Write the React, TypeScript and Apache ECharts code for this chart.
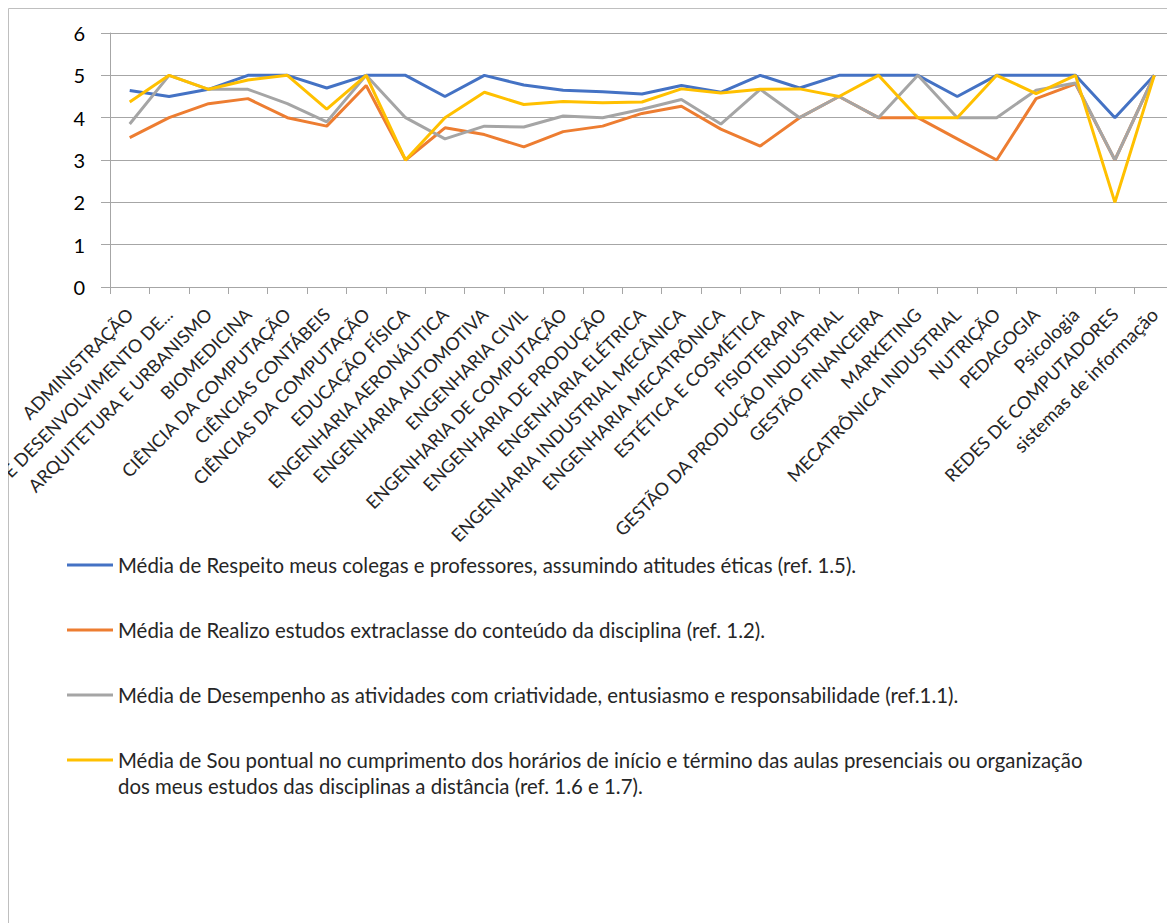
import React, { useEffect, useRef } from "react";
import * as echarts from "echarts";

const categories = [
  "ADMINISTRAÇÃO",
  "ANÁLISE E DESENVOLVIMENTO DE...",
  "ARQUITETURA E URBANISMO",
  "BIOMEDICINA",
  "CIÊNCIA DA COMPUTAÇÃO",
  "CIÊNCIAS CONTÁBEIS",
  "CIÊNCIAS DA COMPUTAÇÃO",
  "EDUCAÇÃO FÍSICA",
  "ENGENHARIA AERONÁUTICA",
  "ENGENHARIA AUTOMOTIVA",
  "ENGENHARIA CIVIL",
  "ENGENHARIA DE COMPUTAÇÃO",
  "ENGENHARIA DE PRODUÇÃO",
  "ENGENHARIA ELÉTRICA",
  "ENGENHARIA INDUSTRIAL MECÂNICA",
  "ENGENHARIA MECATRÔNICA",
  "ESTÉTICA E COSMÉTICA",
  "FISIOTERAPIA",
  "GESTÃO DA PRODUÇÃO INDUSTRIAL",
  "GESTÃO FINANCEIRA",
  "MARKETING",
  "MECATRÔNICA INDUSTRIAL",
  "NUTRIÇÃO",
  "PEDAGOGIA",
  "Psicologia",
  "REDES DE COMPUTADORES",
  "sistemas de informação",
];

const seriesNames = [
  "Média de Respeito meus colegas e professores, assumindo atitudes éticas (ref. 1.5).",
  "Média de Realizo estudos extraclasse do conteúdo da disciplina (ref. 1.2).",
  "Média de Desempenho as atividades com criatividade, entusiasmo e responsabilidade (ref.1.1).",
  "Média de Sou pontual no cumprimento dos horários de início e término das aulas presenciais ou organização dos meus estudos das disciplinas a distância (ref. 1.6 e 1.7).",
];

const respeito = [4.64, 4.5, 4.67, 5, 5, 4.7, 5, 5, 4.5, 5, 4.77, 4.65, 4.61, 4.56, 4.76, 4.6, 5, 4.7, 5, 5, 5, 4.5, 5, 5, 5, 4, 5];
const realizo = [3.53, 4.0, 4.33, 4.45, 4.0, 3.8, 4.76, 3.0, 3.76, 3.6, 3.31, 3.67, 3.8, 4.1, 4.27, 3.73, 3.33, 4.0, 4.5, 4.0, 4.0, 3.5, 3.0, 4.45, 4.8, 3.0, 5];
const desempenho = [3.85, 5, 4.67, 4.67, 4.33, 3.9, 5, 4, 3.5, 3.8, 3.78, 4.04, 4.0, 4.2, 4.43, 3.85, 4.67, 4.0, 4.5, 4.0, 5, 4, 4, 4.65, 4.82, 3, 5];
const pontual = [4.37, 5, 4.67, 4.89, 5, 4.2, 5, 3, 4.0, 4.6, 4.31, 4.38, 4.35, 4.37, 4.68, 4.58, 4.67, 4.68, 4.5, 5, 4, 4, 5, 4.57, 5, 2, 5];

const legendLine4a =
  "Média de Sou pontual no cumprimento dos horários de início e término das aulas presenciais ou organização";
const legendLine4b = "dos meus estudos das disciplinas a distância (ref. 1.6 e 1.7).";

const colors = ["#4472C4", "#ED7D31", "#A5A5A5", "#FFC000"];
const FONT = "Lato";

export default function App() {
  const ref = useRef<HTMLDivElement>(null);
  useEffect(() => {
    if (!ref.current) return;
    const chart = echarts.init(ref.current, undefined, { renderer: "svg" });
    const values = [respeito, realizo, desempenho, pontual];
    // Lato capitals run wider than the original font, so all-caps labels get a slightly smaller size
    const categoryItems = categories.map((c) => ({
      value: c,
      textStyle: { fontSize: c === c.toUpperCase() ? 18 : 19 },
    }));
    chart.setOption({
      animation: false,
      color: colors,
      textStyle: { fontFamily: FONT },
      grid: {
        left: 102,
        right: 1,
        top: 25,
        height: 254,
        containLabel: false,
        outerBoundsMode: "none",
      },
      xAxis: {
        type: "category",
        data: categoryItems,
        boundaryGap: true,
        axisLine: { lineStyle: { color: "#A6A6A6", width: 1 } },
        axisTick: { show: true, length: 7, lineStyle: { color: "#A6A6A6" } },
        axisLabel: {
          rotate: 45,
          interval: 0,
          margin: 24,
          fontSize: 18,
          color: "#262626",
          fontFamily: FONT,
        },
        splitLine: { show: false },
      },
      yAxis: {
        type: "value",
        min: 0,
        max: 6,
        interval: 1,
        axisLine: { show: true, lineStyle: { color: "#A6A6A6" } },
        axisTick: { show: true, length: 9, lineStyle: { color: "#A6A6A6" } },
        axisLabel: { margin: 25, fontSize: 20, color: "#000", fontFamily: FONT },
        splitLine: { lineStyle: { color: "#A6A6A6", width: 1 } },
      },
      legend: {
        orient: "vertical",
        left: 59,
        top: 546,
        padding: 0,
        itemGap: 43,
        itemWidth: 46,
        itemHeight: 3,
        icon: "rect",
        data: seriesNames,
        textStyle: { fontSize: 20.4, lineHeight: 22, color: "#262626", fontFamily: FONT },
        formatter: (name: string) => (name === seriesNames[3] ? legendLine4a : name),
      },
      graphic: [
        {
          type: "rect",
          shape: { x: 0.5, y: 0.5, width: 1300, height: 1300 },
          style: { fill: "none", stroke: "#BFBFBF", lineWidth: 1 },
          silent: true,
        },
        {
          type: "text",
          left: 110,
          top: 767,
          style: {
            text: legendLine4b,
            fontSize: 20.4,
            lineHeight: 22,
            fontFamily: FONT,
            fill: "#262626",
          },
        },
      ],
      series: values.map((v, i) => ({
        name: seriesNames[i],
        type: "line",
        data: v,
        symbol: "none",
        lineStyle: { width: 3, color: colors[i] },
        itemStyle: { color: colors[i] },
      })),
    });
    return () => chart.dispose();
  }, []);
  return <div ref={ref} style={{ width: 1167, height: 915 }} />;
}
